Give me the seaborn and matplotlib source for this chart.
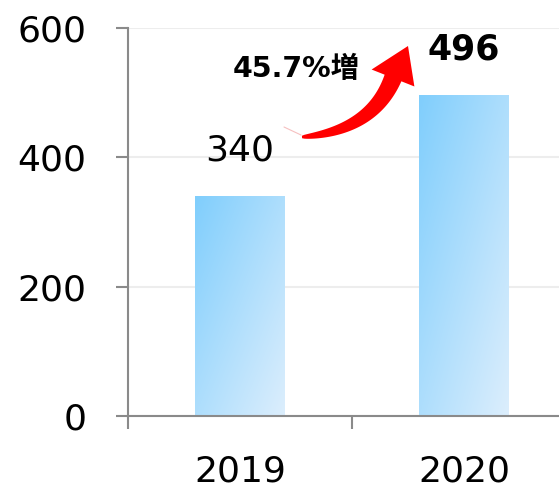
import numpy as np
import matplotlib
matplotlib.use("Agg")
import matplotlib.pyplot as plt
import matplotlib.colors as mcolors
from matplotlib.patches import Polygon
from matplotlib.lines import Line2D
import seaborn as sns

years = ["2019", "2020"]
values = [340, 496]
yticks = [0, 200, 400, 600]
growth_label = "45.7%増"

sns.set_theme(style="white")
plt.rcParams['font.family'] = ['DejaVu Sans', 'Noto Sans CJK JP']

W, H = 559, 488
fig = plt.figure(figsize=(W / 100, H / 100), dpi=100)
ax = fig.add_axes([128 / W, (H - 416) / H, 448 / W, 388 / H])

sns.barplot(x=years, y=values, width=0.4, color="#A8DBFA", ax=ax, zorder=2)

ax.set_xlim(-0.5, 1.5)
ax.set_ylim(0, 600)

# gradient fill on bars (dark top-left -> light bottom-right)
c0 = np.array(mcolors.to_rgb("#80CEFD"))
c1 = np.array(mcolors.to_rgb("#DCEEFC"))
nu, nv = 60, 200
u = np.linspace(0, 1, nu)[None, :]
v = np.linspace(0, 1, nv)[:, None]
t = np.clip((u + v) / 2, 0, 1)
img = c0[None, None, :] * (1 - t[..., None]) + c1[None, None, :] * t[..., None]
for p in ax.patches:
    x0, y0 = p.get_x(), p.get_y()
    w, h = p.get_width(), p.get_height()
    p.set_facecolor("none")
    p.set_edgecolor("none")
    im = ax.imshow(img, extent=[x0, x0 + w, y0, y0 + h], origin="upper",
                   aspect="auto", zorder=2, interpolation="bilinear")
    im.set_clip_path(p)
ax.set_xlim(-0.5, 1.5)
ax.set_ylim(0, 600)

# grid & spines
ax.set_yticks(yticks)
ax.set_yticklabels([str(v) for v in yticks])
ax.yaxis.grid(True, color="#EDEDED", linewidth=1.5, zorder=0)
ax.set_axisbelow(True)
for s in ["top", "right"]:
    ax.spines[s].set_visible(False)
for s in ["left", "bottom"]:
    ax.spines[s].set_color("#8A8A8A")
    ax.spines[s].set_linewidth(1.5)
    ax.spines[s].set_zorder(3)

ax.tick_params(axis="y", which="major", left=True, length=9, width=1.5,
               color="#8A8A8A", pad=21, labelsize=26, labelcolor="black")
ax.set_xticks([0, 1])
ax.set_xticklabels(years)
ax.set_xticks([-0.5, 0.5, 1.5], minor=True)
ax.tick_params(axis="x", which="major", length=0, pad=28, labelsize=26,
               labelcolor="black")
ax.tick_params(axis="x", which="minor", bottom=True, length=9, width=1.5,
               color="#8A8A8A")
ax.set_xlabel("")
ax.set_ylabel("")

# value labels
ax.annotate(str(values[0]), xy=(0, values[0]), xytext=(0, 26),
            textcoords="offset points", ha="center", va="baseline",
            fontsize=26, color="black")
ax.annotate(str(values[1]), xy=(1, values[1]), xytext=(0, 26),
            textcoords="offset points", ha="center", va="baseline",
            fontsize=25, fontweight="bold", color="black")

# growth annotation text
ax.text(0.25, 524, growth_label, ha="center", va="baseline", fontsize=20.5,
        fontweight="bold", color="black",
        family=['DejaVu Sans', 'Noto Sans CJK JP'])


# curved tapering arrow (shape drawn in figure-pixel space)
def curved_arrow(p0, c, pb, tip, head_half, w0, w1):
    p0, c, pb, tip = map(np.asarray, (p0, c, pb, tip))
    ts = np.linspace(0, 1, 60)
    pts = ((1 - ts)[:, None] ** 2 * p0 + 2 * ((1 - ts) * ts)[:, None] * c
           + (ts ** 2)[:, None] * pb)
    d = (2 * (1 - ts)[:, None] * (c - p0) + 2 * ts[:, None] * (pb - c))
    d /= np.linalg.norm(d, axis=1)[:, None]
    n = np.stack([-d[:, 1], d[:, 0]], axis=1)
    wid = w0 + (w1 - w0) * ts ** 0.6
    left = pts + n * (wid / 2)[:, None]
    right = pts - n * (wid / 2)[:, None]
    nd = n[-1]
    hl = pb + nd * head_half
    hr = pb - nd * head_half
    poly = np.vstack([left, hl, tip, hr, right[::-1]])
    poly = np.column_stack([poly[:, 0] / W, 1 - poly[:, 1] / H])
    return poly


arrow_poly = curved_arrow(p0=(302, 137), c=(372, 131), pb=(393, 78),
                          tip=(408, 46), head_half=23, w0=2.5, w1=18)
fig.add_artist(Polygon(arrow_poly, closed=True, transform=fig.transFigure,
                       facecolor="#FF0000", edgecolor="none", zorder=5))
fig.add_artist(Line2D([284 / W, 301 / W], [1 - 127 / H, 1 - 135 / H],
                      transform=fig.transFigure, color="#F6C0C0",
                      linewidth=0.8, zorder=5))

fig.savefig("out.png", dpi=100)
